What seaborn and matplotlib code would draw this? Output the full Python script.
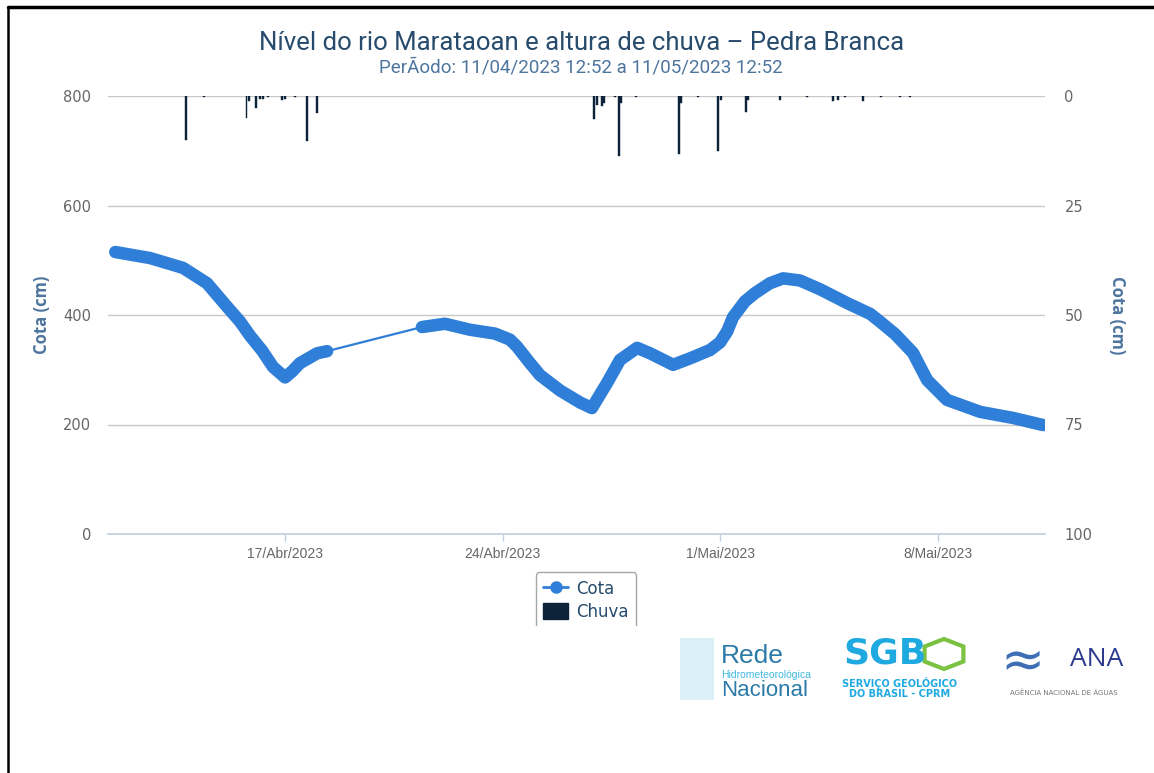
import matplotlib
matplotlib.use("Agg")
import matplotlib.pyplot as plt
from matplotlib.lines import Line2D
from matplotlib.patches import Patch, Rectangle, RegularPolygon
from matplotlib.transforms import Bbox, TransformedBbox
import seaborn as sns
import pandas as pd

# Cota do rio (cm) - dois trechos com uma falha entre eles
cota_datas = [
    "2023-04-11 12:52", "2023-04-12 15:45", "2023-04-13 17:15", "2023-04-14 11:45",
    "2023-04-15 03:15", "2023-04-15 13:15", "2023-04-15 21:00", "2023-04-16 06:15",
    "2023-04-16 14:45", "2023-04-17 00:00", "2023-04-17 05:30", "2023-04-17 11:30",
    "2023-04-18 00:45", "2023-04-18 08:30",
    "2023-04-21 09:45", "2023-04-22 03:30", "2023-04-22 23:00", "2023-04-23 18:15",
    "2023-04-24 05:45", "2023-04-24 11:15", "2023-04-24 21:15", "2023-04-25 05:00",
    "2023-04-25 20:30", "2023-04-26 12:00", "2023-04-26 21:00", "2023-04-27 08:45",
    "2023-04-27 18:45", "2023-04-28 08:00", "2023-04-28 18:00", "2023-04-29 11:45",
    "2023-04-30 01:00", "2023-04-30 16:15", "2023-05-01 00:00", "2023-05-01 05:30",
    "2023-05-01 10:00", "2023-05-01 19:15", "2023-05-02 03:00", "2023-05-02 14:30",
    "2023-05-03 00:45", "2023-05-03 13:45", "2023-05-04 05:15", "2023-05-05 02:00",
    "2023-05-05 20:00", "2023-05-06 03:30", "2023-05-06 15:15", "2023-05-07 05:00",
    "2023-05-07 16:00", "2023-05-08 07:15", "2023-05-09 09:00", "2023-05-10 10:15",
    "2023-05-11 09:30",
]
cota_valores = [
    515, 504, 486, 458, 415, 388, 362, 335, 305, 286, 297, 312, 330, 334,
    378, 384, 373, 366, 355, 342, 312, 290, 262, 240, 230, 276, 318, 340,
    330, 309, 321, 336, 350, 370, 396, 425, 440, 458, 467, 463, 447, 422,
    402, 388, 365, 331, 281, 245, 223, 212, 199,
]
cota_trecho = [1] * 14 + [2] * 37

# Chuva (mm)
chuva_datas = [
    "2023-04-13 19:30", "2023-04-14 09:25", "2023-04-15 18:00", "2023-04-15 20:10",
    "2023-04-16 01:30", "2023-04-16 04:40", "2023-04-16 07:00", "2023-04-16 10:50",
    "2023-04-16 21:40", "2023-04-17 00:00", "2023-04-17 07:45", "2023-04-17 17:00",
    "2023-04-18 00:45", "2023-04-26 22:40", "2023-04-27 01:00", "2023-04-27 04:50",
    "2023-04-27 06:25", "2023-04-27 14:55", "2023-04-27 18:00", "2023-04-27 19:30",
    "2023-04-28 07:05", "2023-04-29 16:20", "2023-04-29 17:55", "2023-04-30 07:00",
    "2023-04-30 22:30", "2023-05-01 00:45", "2023-05-01 20:05", "2023-05-01 21:40",
    "2023-05-02 22:20", "2023-05-03 19:15", "2023-05-04 15:15", "2023-05-04 19:10",
    "2023-05-05 00:35", "2023-05-05 14:30", "2023-05-06 04:20", "2023-05-06 19:05",
    "2023-05-07 02:45",
]
chuva_valores = [
    10.0, 0.3, 5.0, 1.2, 2.7, 0.7, 0.7, 0.2, 1.0, 0.6, 0.2, 10.3, 3.9,
    5.2, 2.0, 2.3, 1.5, 0.3, 13.7, 1.5, 0.2, 13.2, 1.5, 0.2, 12.6, 1.0,
    3.7, 1.0, 1.0, 0.2, 1.2, 1.0, 0.2, 1.2, 0.2, 0.2, 0.2,
]

y_ticks_esq = [0, 200, 400, 600, 800]
y_ticks_dir = [0, 25, 50, 75, 100]
x_ticks = ["2023-04-17", "2023-04-24", "2023-05-01", "2023-05-08"]
x_rotulos = ["17/Abr/2023", "24/Abr/2023", "1/Mai/2023", "8/Mai/2023"]

cota = pd.DataFrame({"data": pd.to_datetime(cota_datas), "cota": cota_valores,
                     "trecho": cota_trecho})
chuva = pd.DataFrame({"data": pd.to_datetime(chuva_datas), "chuva": chuva_valores})

AZUL = "#2f7ed8"
ESCURO = "#0d233a"

sns.set_style("white")
plt.rcParams["font.family"] = ["DejaVu Sans"]

fig = plt.figure(figsize=(11.54, 7.73), dpi=100)
ax = fig.add_axes([108 / 1154, 1 - 534 / 773, (1045 - 108) / 1154, (534 - 96) / 773])

# linha fina ligando todos os pontos (inclusive a falha)
sns.lineplot(data=cota, x="data", y="cota", color=AZUL, lw=1.6, ax=ax, zorder=3)
# trechos com dados densos -> linha grossa
for t, dt in cota.groupby("trecho"):
    sns.lineplot(data=dt, x="data", y="cota", color=AZUL, lw=9,
                 solid_capstyle="round", solid_joinstyle="round", ax=ax, zorder=4)

ax.set_ylim(0, 800)
ax.set_yticks(y_ticks_esq)
ax.set_xlim(pd.Timestamp("2023-04-11 07:15"), pd.Timestamp("2023-05-11 11:00"))
ax.set_xticks(pd.to_datetime(x_ticks))
ax.set_xticklabels(x_rotulos, family=["Liberation Sans Narrow", "Liberation Sans"],
                   fontsize=10, color="#666666")
ax.grid(axis="y", color="#C8C8C8", lw=1)
ax.grid(axis="x", visible=False)
for s in ["top", "right", "left"]:
    ax.spines[s].set_visible(False)
ax.spines["bottom"].set_color("#C0D0E0")
ax.spines["bottom"].set_linewidth(1.2)
ax.tick_params(axis="x", length=5, width=1, color="#C0D0E0", pad=4, bottom=True)
ax.tick_params(axis="y", length=0, labelsize=10.5, labelcolor="#666666", pad=12)
ax.set_xlabel("")
ax.set_ylabel("")

ax2 = ax.twinx()
ax2.bar(chuva["data"], chuva["chuva"], width=0.045, color=ESCURO, edgecolor=ESCURO,
        lw=0.3, align="center")
ax2.set_ylim(100, 0)
ax2.set_yticks(y_ticks_dir)
ax2.tick_params(axis="y", length=0, labelsize=10.5, labelcolor="#666666", pad=14)
for s in ax2.spines.values():
    s.set_visible(False)
ax2.grid(False)

fig.text(42 / 1154, 1 - 315 / 773, "Cota (cm)", rotation=90, ha="center", va="center",
         fontsize=12, fontweight="bold", color="#4d759e", family="Open Sans")
fig.text(1117 / 1154, 1 - 315 / 773, "Cota (cm)", rotation=270, ha="center", va="center",
         fontsize=12, fontweight="bold", color="#4d759e", family="Open Sans")

fig.text(0.504, 1 - 43 / 773, "Nível do rio Marataoan e altura de chuva – Pedra Branca",
         ha="center", va="center", fontsize=18.5, color="#274b6d", family="Roboto")
fig.text(0.503, 1 - 67 / 773, "PerÃodo: 11/04/2023 12:52 a 11/05/2023 12:52",
         ha="center", va="center", fontsize=13.5, color="#4d759e", family="Roboto")

# legenda (cortada embaixo como no original)
handles = [Line2D([], [], color=AZUL, lw=2, marker="o", markersize=8),
           Patch(facecolor=ESCURO, edgecolor=ESCURO)]
leg = fig.legend(handles, ["Cota", "Chuva"], loc="upper center",
                 bbox_to_anchor=(586 / 1154, 1 - 564 / 773), frameon=True, fancybox=True,
                 fontsize=12, handlelength=1.5, handleheight=1.1, labelspacing=0.3,
                 borderpad=0.45, handletextpad=0.5, edgecolor="#909090")
for txt in leg.get_texts():
    txt.set_color("#274b6d")
leg.get_frame().set_linewidth(1.0)
fig.canvas.draw()
clip = TransformedBbox(Bbox([[0, 1 - 626 / 773], [1, 1]]), fig.transFigure)
leg.legendPatch.set_clip_box(clip)

# logos aproximados em texto
narrow = ["Liberation Sans Narrow", "Liberation Sans"]
fig.patches.append(Rectangle((680 / 1154, 1 - 700 / 773), 34 / 1154, 62 / 773,
                             transform=fig.transFigure, color="#6fc3e6", alpha=0.25, lw=0))
fig.text(721 / 1154, 1 - 656 / 773, "Rede", fontsize=19, color="#2b7aa8",
         family=narrow, va="center")
fig.text(721 / 1154, 1 - 675 / 773, "Hidrometeorológica", fontsize=7.5, color="#3fb8e0",
         family=narrow, va="center")
fig.text(721 / 1154, 1 - 690 / 773, "Nacional", fontsize=16, color="#2b7aa8",
         family=narrow, va="center")

fig.text(843 / 1154, 1 - 654 / 773, "SGB", fontsize=26, fontweight="bold", color="#1fa9e1",
         family="DejaVu Sans", va="center")
fig.patches.append(RegularPolygon((944 / 1154, 1 - 654 / 773), 6, radius=15 / 773,
                                  transform=fig.transFigure, facecolor="none",
                                  edgecolor="#7cc242", lw=3))
fig.text(900 / 1154, 1 - 683 / 773, "SERVIÇO GEOLÓGICO", fontsize=7, fontweight="bold",
         color="#1fa9e1", ha="center", va="center")
fig.text(900 / 1154, 1 - 694 / 773, "DO BRASIL - CPRM", fontsize=7, fontweight="bold",
         color="#1fa9e1", ha="center", va="center")

fig.text(1000 / 1154, 1 - 662 / 773, "≈", fontsize=38, color="#3e6fb5", va="center")
fig.text(1070 / 1154, 1 - 660 / 773, "ANA", fontsize=19, color="#2b3a8c",
         family="Open Sans", va="center")
fig.text(1064 / 1154, 1 - 693 / 773, "AGÊNCIA NACIONAL DE ÁGUAS", fontsize=5, color="#777777",
         ha="center", va="center")

# moldura
fig.add_artist(Line2D([8 / 1154, 1], [1 - 7 / 773, 1 - 7 / 773], color="black", lw=2.5,
                      transform=fig.transFigure))
fig.add_artist(Line2D([8 / 1154, 8 / 1154], [0, 1 - 7 / 773], color="black", lw=1.8,
                      transform=fig.transFigure))

fig.savefig("out.png", dpi=100)
